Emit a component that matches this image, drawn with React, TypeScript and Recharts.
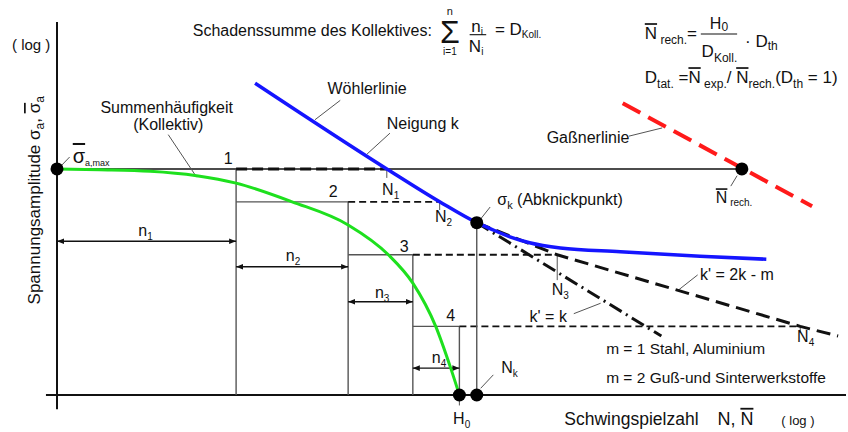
import { ComposedChart, Line, XAxis, YAxis, ReferenceLine, ReferenceDot } from 'recharts';

// Schematische Koordinaten: x = log N, y = log σa
const kollektivN = [0, 0.54, 1.18, 1.77, 2.27, 2.98, 3.69, 4.2, 4.51, 4.8, 4.99, 5.1];
const kollektivS = [3.03, 3.02, 3.0, 2.94, 2.84, 2.59, 2.28, 1.88, 1.5, 0.92, 0.36, 0];

const woehlerN = [2.51, 4.18, 4.85, 5.32, 5.49, 5.74, 5.99, 6.38, 7.14, 8.15, 8.99];
const woehlerS = [4.18, 3.03, 2.59, 2.31, 2.23, 2.12, 2.04, 1.97, 1.92, 1.86, 1.82];

// Stufen des Kollektivs: Lastniveau, Summe der Schwingspiele, ertragbare N1..N4
const stufeS = [3.03, 2.59, 1.88, 0.92];
const stufeN = [2.27, 3.69, 4.51, 5.1];
const lebensdauerN = [4.18, 4.85, 6.34, 9.42];
const pfeilS = [2.06, 1.72, 1.25, 0.36];
const stufeLabel = ['1', '2', '3', '4'];

const kGleichN = [5.32, 7.66];
const kGleichS = [2.31, 0.79];
const k2kN = [5.32, 6.34, 9.42, 9.9];
const k2kS = [2.31, 1.88, 0.92, 0.79];
const gassnerN = [7.17, 9.57];
const gassnerS = [3.91, 2.53];

const knickN = 5.32;
const knickS = 2.31;
const nRech = 8.68;
const h0 = 5.1;

const zip = (xs: number[], ys: number[]) => xs.map((x, i) => ({ x, y: ys[i] }));

const FONT = '"Liberation Sans", Arial, sans-serif';
const INK = '#111';
const GREY = '#555';

type P = { x: number; y: number };

function seg(key: string, a: P, b: P, stroke = INK, width = 1.5, dash?: string) {
  return (
    <ReferenceLine
      key={key}
      segment={[a, b]}
      ifOverflow="visible"
      stroke={stroke}
      strokeWidth={width}
      strokeDasharray={dash}
    />
  );
}

function arrow(key: string, a: P, b: P) {
  return (
    <ReferenceLine
      key={key}
      segment={[a, b]}
      ifOverflow="visible"
      shape={(p: any) => (
        <line
          x1={p.x1}
          y1={p.y1}
          x2={p.x2}
          y2={p.y2}
          stroke={INK}
          strokeWidth={1.4}
          markerStart="url(#pfeil)"
          markerEnd="url(#pfeil)"
        />
      )}
    />
  );
}

function note(key: string, x: number, y: number, content: any, size = 16, anchor = 'start', rotate = false) {
  return (
    <ReferenceDot
      key={key}
      x={x}
      y={y}
      r={0}
      ifOverflow="visible"
      shape={(p: any) => (
        <text
          x={p.cx}
          y={p.cy}
          fontSize={size}
          textAnchor={anchor}
          fill={INK}
          fontFamily={FONT}
          transform={rotate ? `rotate(-90 ${p.cx} ${p.cy})` : undefined}
        >
          {content}
        </text>
      )}
    />
  );
}

// Index (tiefgestellt), danach optional weiterer Text auf der Grundlinie
const sub = (s: string, size: number, dy: number, rest?: any) => (
  <>
    <tspan fontSize={size} dy={dy}>{s}</tspan>
    {rest !== undefined ? <tspan dy={-dy}>{rest}</tspan> : null}
  </>
);

const bar = (c: string) => <tspan textDecoration="overline" style={{ textDecoration: 'overline' }}>{c}</tspan>;

export default function App() {
  const dot = (key: string, x: number, y: number) => (
    <ReferenceDot key={key} x={x} y={y} r={6.5} fill="#000" stroke="none" ifOverflow="visible" />
  );

  return (
    <div style={{ position: 'absolute', left: 0, top: 0, width: 848, height: 432, background: '#fff' }}>
      <ComposedChart width={848} height={432} margin={{ top: 22, right: 2, bottom: 37, left: 57 }}>
        <defs>
          <marker id="pfeil" viewBox="0 0 10 10" refX="10" refY="5" markerWidth="5" markerHeight="5" orient="auto-start-reverse">
            <path d="M0,1 L10,5 L0,9 z" fill={INK} />
          </marker>
        </defs>
        <XAxis type="number" dataKey="x" domain={[0, 10]} allowDataOverflow hide />
        <YAxis type="number" dataKey="y" domain={[0, 5]} allowDataOverflow hide />

        {/* Achsen */}
        {seg('ax-x', { x: -0.14, y: 0 }, { x: 10, y: 0 }, INK, 2)}
        {seg('ax-y', { x: 0, y: -0.19 }, { x: 0, y: 5 }, INK, 2)}

        {/* Höchstwert-Linie bis N̄rech */}
        {seg('smax', { x: 0, y: stufeS[0] }, { x: nRech, y: stufeS[0] }, INK, 1.4)}

        {/* Stufen, Verlängerungen, Maßpfeile */}
        {stufeS.map((s, i) => [
          i > 0 ? seg(`st${i}`, { x: stufeN[i - 1], y: s }, { x: stufeN[i], y: s }, GREY, 1.3) : null,
          seg(`v${i}`, { x: stufeN[i], y: s }, { x: stufeN[i], y: 0 }, GREY, 1.4),
          seg(`d${i}`, { x: stufeN[i], y: s }, { x: lebensdauerN[i], y: s }, INK, i === 0 ? 3 : 1.8, i === 0 ? '11 5' : '7 4'),
          arrow(`a${i}`, { x: i === 0 ? 0 : stufeN[i - 1], y: pfeilS[i] }, { x: stufeN[i], y: pfeilS[i] }),
        ])}
        {seg('vk', { x: knickN, y: knickS }, { x: knickN, y: 0 }, GREY, 1.4)}

        {/* kleine Marken an N1..N4 */}
        {seg('t1', { x: lebensdauerN[0], y: stufeS[0] }, { x: lebensdauerN[0], y: 2.91 }, GREY, 1)}
        {seg('t2', { x: lebensdauerN[1], y: stufeS[1] }, { x: lebensdauerN[1], y: 2.48 }, GREY, 1)}
        {seg('t3', { x: lebensdauerN[2], y: stufeS[2] }, { x: lebensdauerN[2], y: 1.54 }, GREY, 1)}
        {seg('t4', { x: lebensdauerN[3], y: stufeS[3] }, { x: lebensdauerN[3], y: 0.83 }, GREY, 1)}

        {/* Hinweislinien */}
        {seg('l1', { x: 0.06, y: 3.08 }, { x: 0.16, y: 3.19 }, GREY, 1)}
        {seg('l2', { x: 1.41, y: 3.49 }, { x: 1.77, y: 2.92 }, GREY, 1)}
        {seg('l3', { x: 3.59, y: 3.95 }, { x: 3.27, y: 3.69 }, GREY, 1)}
        {seg('l4', { x: 4.22, y: 3.51 }, { x: 3.93, y: 3.23 }, GREY, 1)}
        {seg('l5', { x: 5.49, y: 2.52 }, { x: 5.37, y: 2.36 }, GREY, 1)}
        {seg('l6', { x: 7.25, y: 3.47 }, { x: 7.67, y: 3.58 }, GREY, 1)}
        {seg('l7', { x: 8.62, y: 2.94 }, { x: 8.54, y: 2.8 }, GREY, 1)}
        {seg('l8', { x: 8.12, y: 1.61 }, { x: 7.88, y: 1.41 }, GREY, 1)}
        {seg('l9', { x: 6.55, y: 1.09 }, { x: 6.89, y: 1.23 }, GREY, 1)}
        {seg('l10', { x: 5.53, y: 0.27 }, { x: 5.37, y: 0.09 }, GREY, 1)}
        {seg('l11', { x: h0, y: -0.08 }, { x: h0, y: -0.14 }, GREY, 1)}

        {/* Bruchstriche der Formeln */}
        {seg('f1', { x: 5.23, y: 4.83 }, { x: 5.44, y: 4.83 }, INK, 1.1)}
        {seg('f2', { x: 8.16, y: 4.84 }, { x: 8.62, y: 4.84 }, INK, 1.1)}

        <Line data={zip(kGleichN, kGleichS)} dataKey="y" type="linear" stroke={INK} strokeWidth={3} strokeDasharray="14 5 2 5" dot={false} isAnimationActive={false} />
        <Line data={zip(k2kN, k2kS)} dataKey="y" type="linear" stroke={INK} strokeWidth={3} strokeDasharray="14 7" dot={false} isAnimationActive={false} />
        <Line data={zip(gassnerN, gassnerS)} dataKey="y" type="linear" stroke="#ff1a1a" strokeWidth={4} strokeDasharray="20 9" dot={false} isAnimationActive={false} />
        <Line data={zip(kollektivN, kollektivS)} dataKey="y" type="monotone" stroke="#1ee01e" strokeWidth={3} dot={false} isAnimationActive={false} />
        <Line data={zip(woehlerN, woehlerS)} dataKey="y" type="monotone" stroke="#1515ff" strokeWidth={3.5} dot={false} isAnimationActive={false} />

        {dot('p-smax', 0, stufeS[0])}
        {dot('p-nrech', nRech, stufeS[0])}
        {dot('p-knick', knickN, knickS)}
        {dot('p-h0', h0, 0)}
        {dot('p-nk', knickN, 0)}

        {/* Texte */}
        {note('log-y', -0.57, 4.62, '( log )', 15)}
        {note('ylab', -0.215, 2.61, <>Spannungsamplitude σ{sub('a', 12, 4, ', ')}{bar('σ')}{sub('a', 12, 4)}</>, 17, 'middle', true)}
        {note('schad', 1.72, 4.81, 'Schadenssumme des Kollektives:', 16)}
        {note('sigma', 4.98, 4.72, 'Σ', 32, 'middle')}
        {note('sig-n', 4.98, 5.1, 'n', 11, 'middle')}
        {note('sig-i', 4.98, 4.56, 'i=1', 10, 'middle')}
        {note('ni', 5.25, 4.87, <>n{sub('i', 10, 3)}</>, 17)}
        {note('Ni', 5.22, 4.6, <>N{sub('i', 10, 3)}</>, 17)}
        {note('dkoll', 5.55, 4.83, <>= D{sub('Koll.', 10, 3)}</>, 17)}

        {note('nrech-f', 7.45, 4.77, <>{bar('N')}{sub(' rech.', 12, 5, '=')}</>, 17)}
        {note('h0-f', 8.39, 4.91, <>H{sub('0', 12, 2)}</>, 16, 'middle')}
        {note('dk-f', 8.17, 4.53, <>D{sub('Koll.', 12, 5)}</>, 17)}
        {note('dth-f', 8.72, 4.66, <>· D{sub('th', 12, 3)}</>, 17)}
        {note(
          'dtat-f',
          7.45,
          4.18,
          <>
            D{sub('tat.', 12, 5, ' =')}
            {bar('N')}
            {sub(' exp.', 12, 5, '/ ')}
            {bar('N')}
            {sub('rech.', 12, 5, '(D')}
            {sub('th', 12, 5, ' = 1)')}
          </>,
          17,
        )}

        {note('smax-l', 0.2, 3.11, <>{bar('σ')}{sub('a,max', 9, 3)}</>, 20)}
        {note('summ', 1.39, 3.78, 'Summenhäufigkeit', 16, 'middle')}
        {note('koll', 1.41, 3.55, '(Kollektiv)', 16, 'middle')}
        {note('woehl', 3.93, 4.03, 'Wöhlerlinie', 16, 'middle')}
        {note('neig', 4.18, 3.57, 'Neigung k', 16)}
        {note('gass', 6.73, 3.38, 'Gaßnerlinie', 16, 'middle')}
        {note('nrech-l', 8.35, 2.57, <>{bar('N')}{sub(' rech.', 10, 3)}</>, 16)}
        {note('knick-l', 5.58, 2.55, <>σ{sub('k', 11, 4, ' (Abknickpunkt)')}</>, 16)}

        {stufeLabel.map((t, i) => note(`sl${i}`, [2.17, 3.5, 4.4, 4.99][i], [3.1, 2.65, 1.92, 0.99][i], t, 16, 'middle'))}
        {note('N1', 4.12, 2.68, <>N{sub('1', 10, 4)}</>, 16)}
        {note('N2', 4.79, 2.32, <>N{sub('2', 10, 4)}</>, 16)}
        {note('N3', 6.27, 1.34, <>N{sub('3', 10, 4)}</>, 16)}
        {note('N4', 9.38, 0.71, <>N{sub('4', 10, 4)}</>, 16)}
        {note('Nk', 5.63, 0.29, <>N{sub('k', 10, 4)}</>, 16)}
        {note('H0', 5.02, -0.39, <>H{sub('0', 10, 4)}</>, 16)}
        {note('n1', 1.03, 2.13, <>n{sub('1', 10, 4)}</>, 16)}
        {note('n2', 2.9, 1.8, <>n{sub('2', 10, 4)}</>, 16)}
        {note('n3', 4.03, 1.3, <>n{sub('3', 10, 4)}</>, 16)}
        {note('n4', 4.75, 0.43, <>n{sub('4', 10, 4)}</>, 16)}

        {note('k2k', 8.15, 1.54, "k' = 2k - m", 16)}
        {note('kk', 5.99, 0.98, "k' = k", 16)}
        {note('m1', 6.96, 0.55, 'm = 1 Stahl, Aluminium', 15.5)}
        {note('m2', 6.96, 0.16, 'm = 2 Guß-und Sinterwerkstoffe', 15.5)}
        {note('xlab', 6.43, -0.4, 'Schwingspielzahl', 17.5)}
        {note('xlab-n', 8.37, -0.4, <>N, {bar('N')}</>, 18)}
        {note('xlab-log', 9.18, -0.4, '( log )', 13)}
      </ComposedChart>
    </div>
  );
}
